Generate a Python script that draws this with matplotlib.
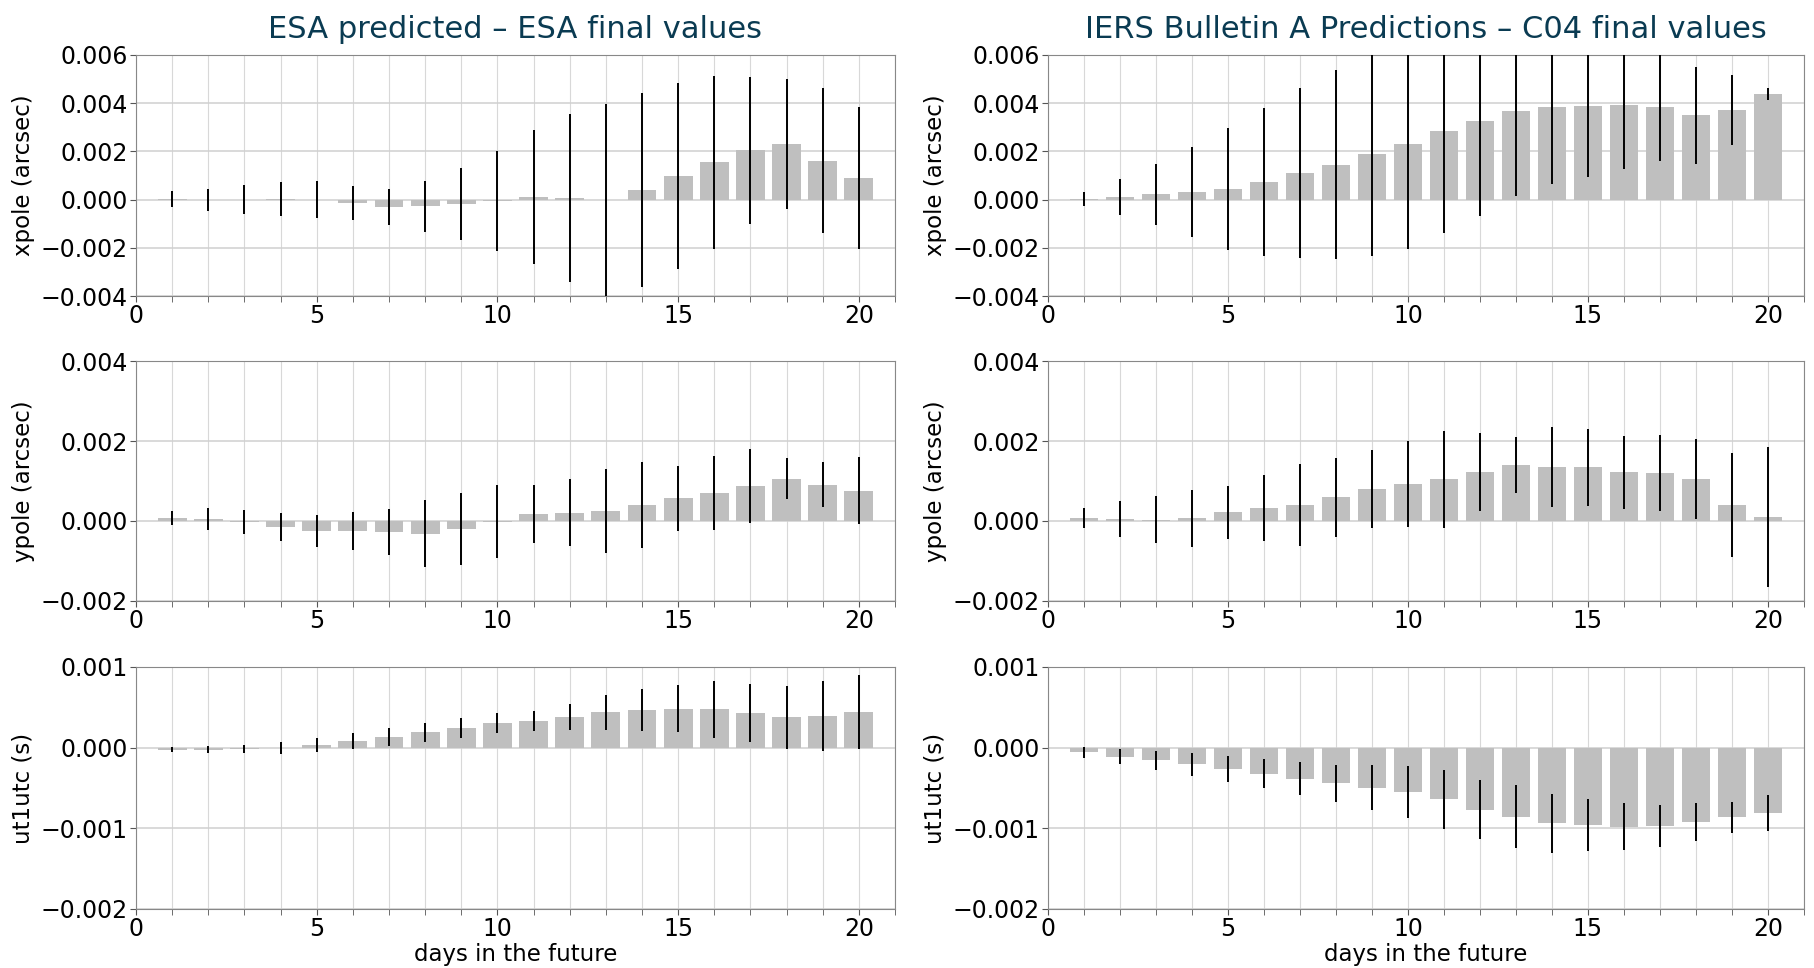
import numpy as np
import matplotlib
matplotlib.use("Agg")
import matplotlib.pyplot as plt
from matplotlib.ticker import MultipleLocator

days = np.arange(1, 21)

# ESA predicted - ESA final values (mean and std per forecast day)
esa_xpole_mean = [0.00003, -0.00001, 0.0, 0.00002, 0.0, -0.00013, -0.00029, -0.00028, -0.00018, -0.00005,
                  0.00011, 0.00006, -0.00003, 0.0004, 0.00099, 0.00154, 0.00204, 0.0023, 0.00161, 0.00091]
esa_xpole_std = [0.00032, 0.00047, 0.0006, 0.00072, 0.00077, 0.00071, 0.00075, 0.00105, 0.0015, 0.00207,
                 0.00279, 0.00348, 0.004, 0.00402, 0.00385, 0.00359, 0.00304, 0.0027, 0.00301, 0.00294]
esa_ypole_mean = [0.00008, 0.00005, -0.00003, -0.00014, -0.00025, -0.00025, -0.00027, -0.00032, -0.0002, -0.00002,
                  0.00018, 0.00021, 0.00026, 0.0004, 0.00057, 0.0007, 0.00087, 0.00106, 0.00091, 0.00076]
esa_ypole_std = [0.00017, 0.00028, 0.0003, 0.00035, 0.0004, 0.00048, 0.00057, 0.00084, 0.00091, 0.00091,
                 0.00072, 0.00084, 0.00105, 0.00107, 0.00081, 0.00092, 0.00093, 0.00051, 0.00057, 0.00084]
esa_ut1_mean = [-0.000025, -0.000025, -0.000017, -0.000005, 0.000037, 0.000083, 0.000132, 0.00019, 0.000244, 0.000305,
                0.00033, 0.00038, 0.000437, 0.00047, 0.000483, 0.000475, 0.00043, 0.000376, 0.000396, 0.00044]
esa_ut1_std = [0.00003, 0.000043, 0.000054, 0.00007, 0.000085, 0.000095, 0.00011, 0.00012, 0.00012, 0.000128,
               0.000126, 0.000165, 0.000213, 0.00026, 0.00029, 0.000355, 0.000357, 0.00039, 0.000435, 0.000458]

# IERS Bulletin A predictions - C04 final values
iers_xpole_mean = [0.00003, 0.00011, 0.00022, 0.00032, 0.00044, 0.00073, 0.00109, 0.00145, 0.00189, 0.00232,
                   0.00286, 0.00328, 0.00366, 0.00385, 0.0039, 0.00393, 0.00385, 0.00349, 0.00372, 0.00437]
iers_xpole_std = [0.0003, 0.00073, 0.00127, 0.00186, 0.00252, 0.00308, 0.00352, 0.00393, 0.00423, 0.00436,
                  0.00423, 0.00397, 0.00352, 0.0032, 0.00296, 0.00265, 0.00226, 0.002, 0.00144, 0.00025]
iers_ypole_mean = [0.00007, 0.00005, 0.00003, 0.00007, 0.00022, 0.00032, 0.0004, 0.00059, 0.0008, 0.00093,
                   0.00104, 0.00122, 0.0014, 0.00134, 0.00134, 0.00122, 0.00119, 0.00104, 0.0004, 0.0001]
iers_ypole_std = [0.00025, 0.00046, 0.00059, 0.00071, 0.00066, 0.00083, 0.00103, 0.00098, 0.00098, 0.00108,
                  0.00121, 0.00098, 0.00071, 0.001, 0.00097, 0.00091, 0.00095, 0.001, 0.00131, 0.00175]
iers_ut1_mean = [-0.000058, -0.000112, -0.000158, -0.000207, -0.000266, -0.000324, -0.000386, -0.000444, -0.000494, -0.000548,
                 -0.00064, -0.000768, -0.000855, -0.000938, -0.000959, -0.00098, -0.000971, -0.000925, -0.000863, -0.000813]
iers_ut1_std = [0.000066, 0.000093, 0.00012, 0.000139, 0.000158, 0.000178, 0.000203, 0.000234, 0.000274, 0.000322,
                0.000365, 0.000365, 0.000386, 0.000367, 0.000324, 0.00029, 0.000263, 0.000237, 0.000195, 0.000222]

titles = ["ESA predicted \u2013 ESA final values", "IERS Bulletin A Predictions \u2013 C04 final values"]
ylabels = ["xpole (arcsec)", "ypole (arcsec)", "ut1utc (s)"]
yticks = [[-0.004, -0.002, 0.0, 0.002, 0.004, 0.006],
          [-0.002, 0.0, 0.002, 0.004],
          [-0.002, -0.001, 0.0, 0.001]]

columns = [
    [(esa_xpole_mean, esa_xpole_std), (esa_ypole_mean, esa_ypole_std), (esa_ut1_mean, esa_ut1_std)],
    [(iers_xpole_mean, iers_xpole_std), (iers_ypole_mean, iers_ypole_std), (iers_ut1_mean, iers_ut1_std)],
]

plt.rcParams["font.family"] = "DejaVu Sans"
plt.rcParams["font.size"] = 16

fig = plt.figure(figsize=(18.15, 9.68), dpi=100)

W, H = 1815, 968
col_x = [(136, 895), (1048, 1804)]
row_y = [(55, 296), (361, 601), (667, 909)]

for c, col in enumerate(columns):
    for r, (mean, std) in enumerate(col):
        x0, x1 = col_x[c]
        y0, y1 = row_y[r]
        ax = fig.add_axes([x0 / W, 1 - y1 / H, (x1 - x0) / W, (y1 - y0) / H])
        ax.bar(days, mean, width=0.8, color="#bfbfbf", zorder=2)
        ax.errorbar(days, mean, yerr=std, fmt="none", ecolor="black", elinewidth=1.4, capsize=0, zorder=3)
        ax.set_xlim(0, 21)
        ax.set_ylim(yticks[r][0], yticks[r][-1])
        ax.set_yticks(yticks[r])
        ax.xaxis.set_major_locator(MultipleLocator(5))
        ax.xaxis.set_minor_locator(MultipleLocator(1))
        ax.grid(True, which="both", axis="x", color="#d8d8d8", linewidth=0.8, zorder=0)
        ax.grid(True, which="major", axis="y", color="#d0d0d0", linewidth=1.1, zorder=0)
        ax.set_axisbelow(True)
        for sp in ax.spines.values():
            sp.set_color("#888888")
        ax.tick_params(which="both", color="#555555", length=4, labelsize=17, pad=2)
        ax.set_ylabel(ylabels[r], fontsize=16.5)
        if r == 0:
            ax.set_title(titles[c], fontsize=22, color="#0a3b52", pad=12)
        if r == 2:
            ax.set_xlabel("days in the future", fontsize=16.5, labelpad=1)

fig.savefig("out.png", dpi=100)
